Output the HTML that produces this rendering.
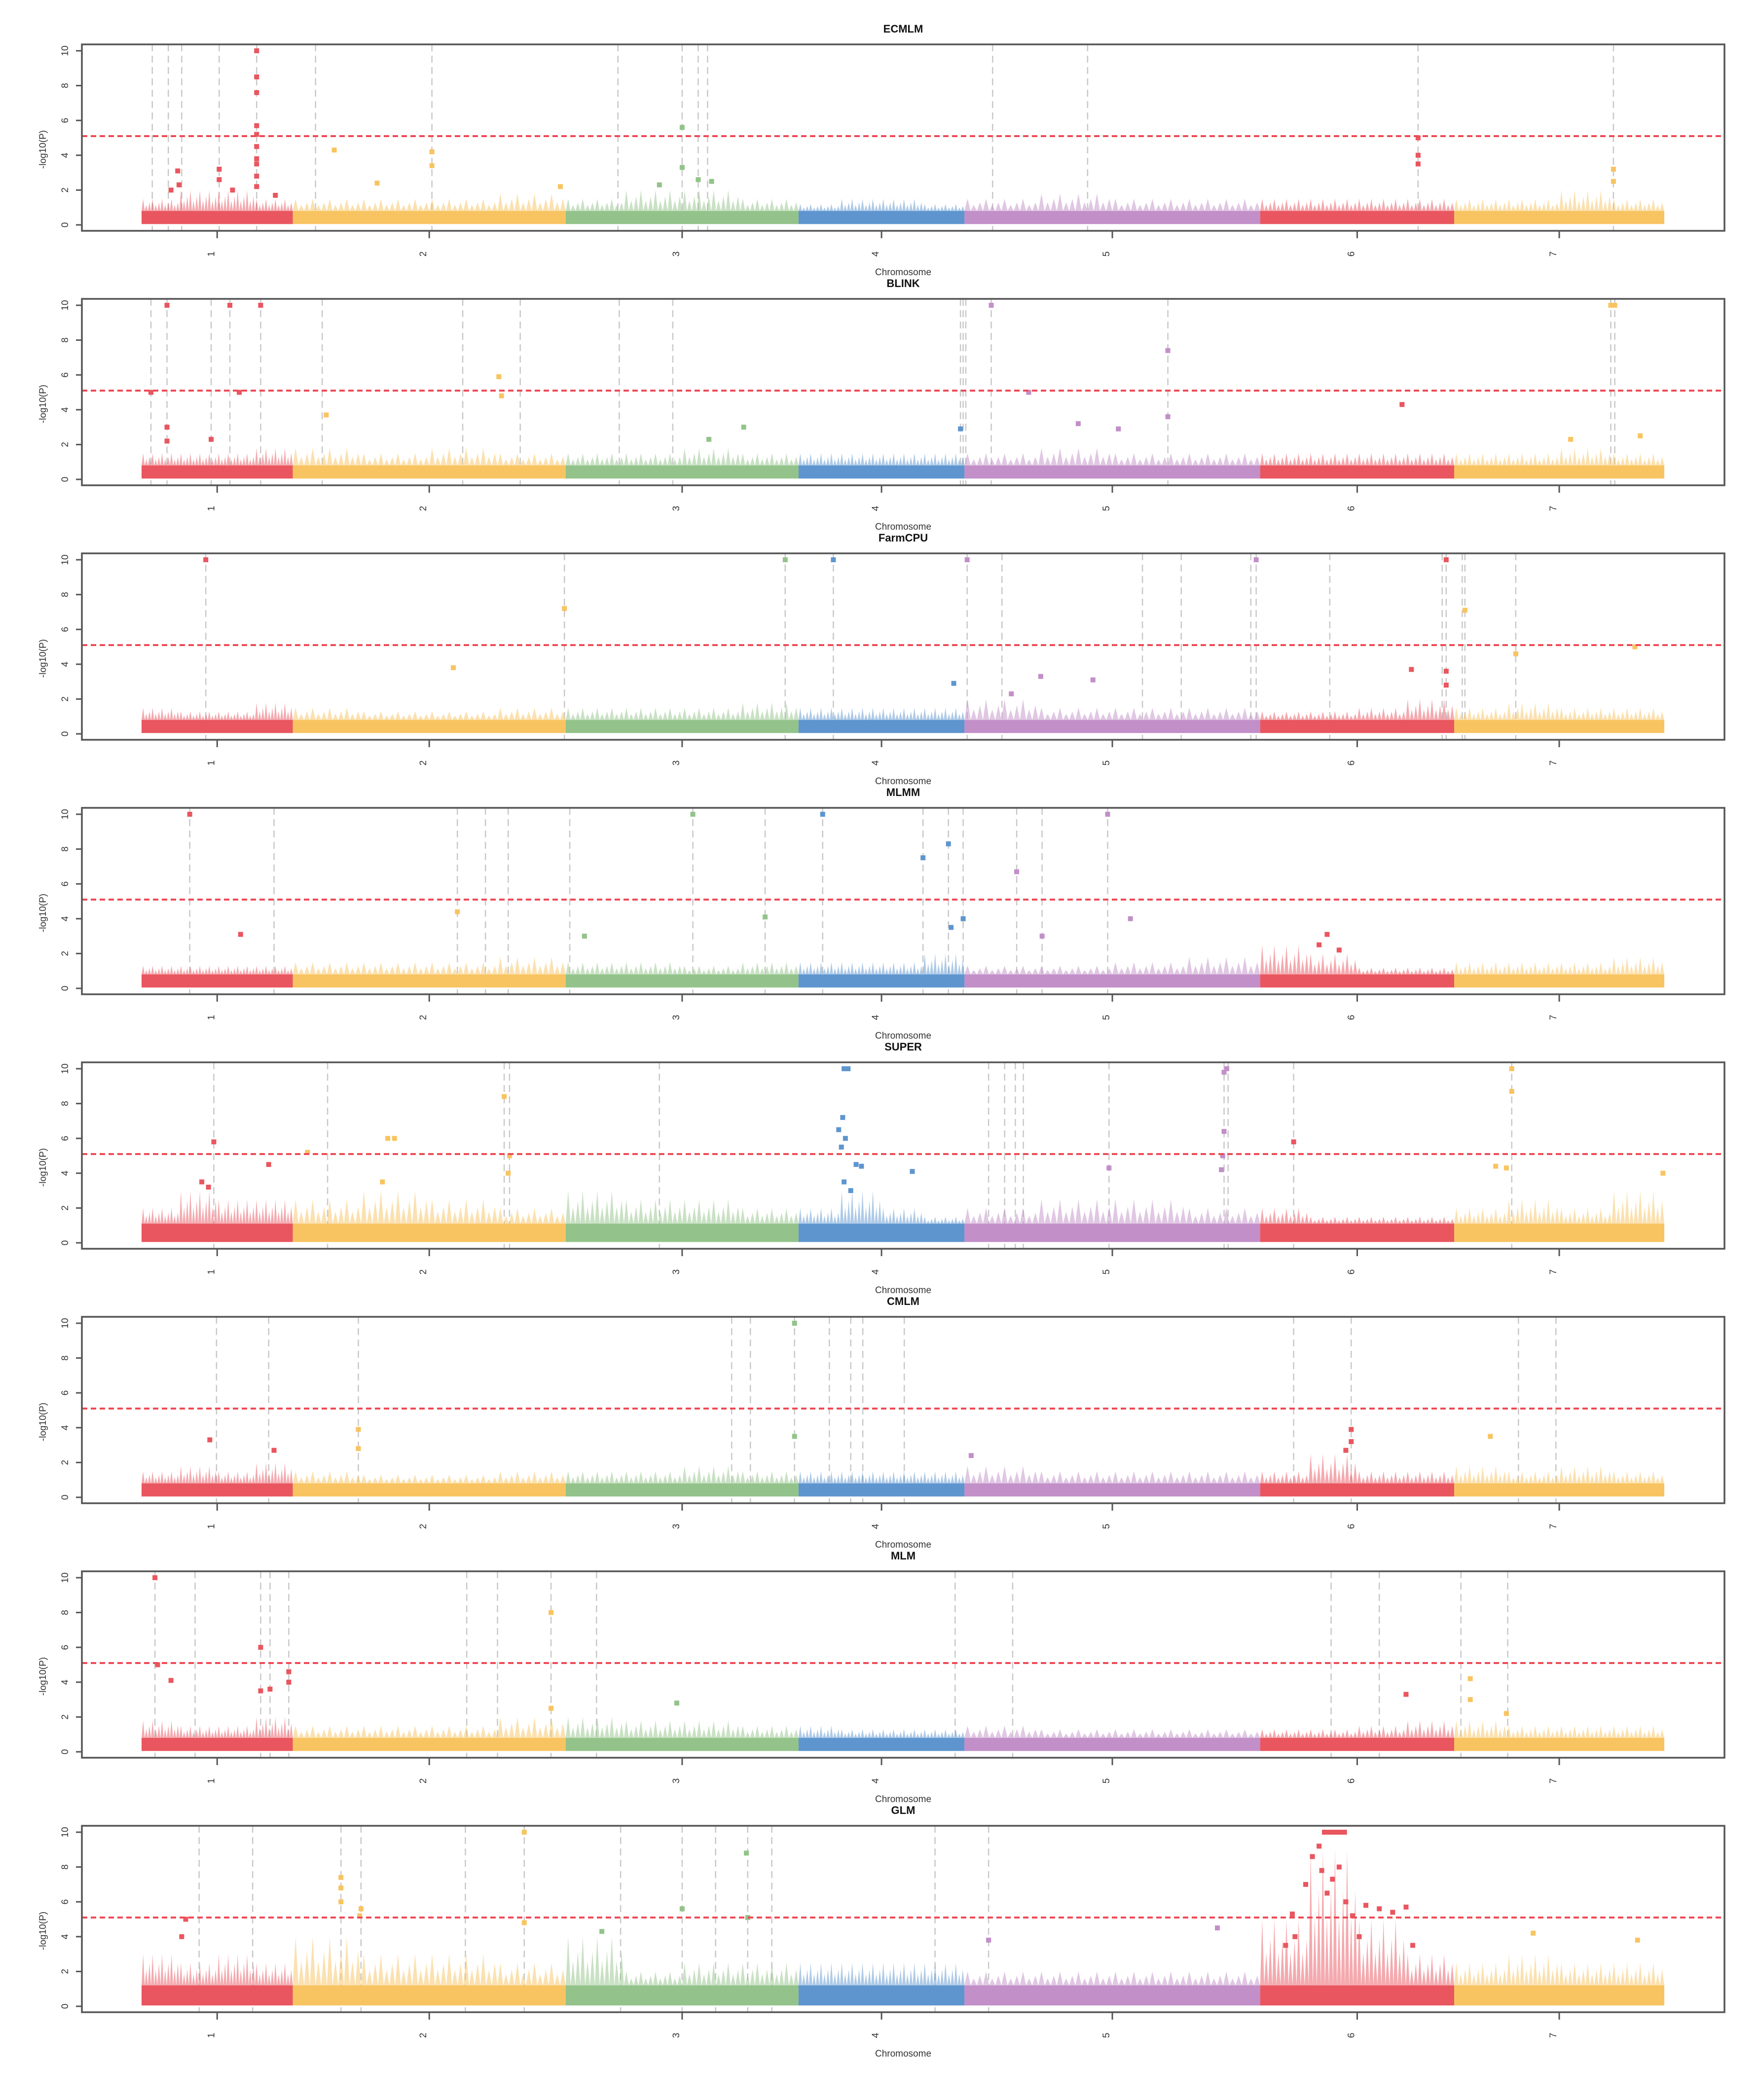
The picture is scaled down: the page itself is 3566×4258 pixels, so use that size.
<!DOCTYPE html>
<html><head><meta charset="utf-8"><style>
body{margin:0;background:#fff}
svg{display:block;font-family:"Liberation Sans",sans-serif}
</style></head><body>
<svg id="chart" width="3566" height="4258" viewBox="0 0 3566 4258" xmlns="http://www.w3.org/2000/svg"></svg>
<script>
// ---- data ----
const chromNames = ["1","2","3","4","5","6","7"];
const chromLen = [113,204,174,124,221,145,157]; // Mb
const chromColors = ["#E9565F","#F8C461","#93C38A","#5E95CF","#C28FC8","#E9565F","#F8C461"];
const yTicks = [0,2,4,6,8,10];
const threshold = 5.1;
const panelTitles = ["ECMLM","BLINK","FarmCPU","MLMM","SUPER","CMLM","MLM","GLM"];
const solidLevels = [0.8,0.8,0.8,0.8,1.1,0.8,0.8,1.2];
const envelopes = [
 [1.5,2.0,2.0,1.5, 1.5,1.5,1.5,1.8, 1.5,2.0,2.0,1.5, 1.2,1.5,1.5,1.2, 1.5,1.8,1.5,1.5, 1.5,1.5,1.5,1.5, 1.5,1.5,2.0,1.5],
 [1.5,1.5,1.5,1.8, 1.8,1.5,1.8,1.5, 1.5,1.5,1.8,1.5, 1.5,1.5,1.5,1.5, 1.5,1.8,1.5,1.5, 1.5,1.5,1.5,1.5, 1.5,1.5,1.8,1.5],
 [1.5,1.3,1.3,1.8, 1.5,1.3,1.3,1.5, 1.5,1.5,1.5,1.8, 1.5,1.5,1.5,1.5, 2.0,1.5,1.5,1.5, 1.3,1.3,1.5,2.0, 1.5,1.8,1.5,1.5],
 [1.3,1.3,1.3,1.3, 1.5,1.5,1.5,1.8, 1.5,1.5,1.3,1.5, 1.5,1.5,1.5,2.0, 1.3,1.3,1.5,1.8, 2.5,2.0,1.2,1.2, 1.5,1.5,1.5,1.8],
 [2.0,3.0,2.5,2.5, 2.5,3.0,2.5,2.0, 3.0,2.5,2.5,2.0, 2.0,3.0,2.0,1.5, 2.0,2.5,2.5,2.0, 2.0,1.5,1.5,1.5, 2.0,2.5,2.0,3.0],
 [1.5,1.8,1.5,2.0, 1.5,1.3,1.3,1.5, 1.5,1.5,1.8,1.5, 1.5,1.5,1.5,1.5, 1.8,1.5,1.5,1.5, 1.5,2.5,1.5,1.5, 1.8,1.5,1.8,1.5],
 [1.8,1.5,1.5,2.0, 1.5,1.5,1.5,2.0, 2.0,1.8,1.8,1.5, 1.5,1.3,1.3,1.3, 1.5,1.3,1.3,1.3, 1.3,1.3,1.5,1.8, 1.8,1.5,1.5,1.5],
 [3.0,2.5,3.0,2.5, 4.0,3.0,3.0,2.5, 4.0,2.0,2.5,2.5, 2.5,2.5,2.5,2.5, 2.0,2.0,2.0,2.0, 5.0,9.0,5.0,3.0, 2.5,3.0,2.5,2.5]
];
const signalLines = [
 [8,20,30,58,86,130,217,356,404,416,423,636,707,954,1100],
 [7,19,52,66,89,135,240,283,357,397,612,614,616,635,767,1098,1101],
 [48,316,481,517,617,643,748,777,829,833,888,972,975,987,989,1027],
 [36,99,236,257,274,320,412,466,509,584,603,614,654,673,722],
 [54,139,271,275,387,633,645,653,659,723,809,812,861,1024],
 [56,95,162,441,455,488,514,530,539,570,861,904,1029,1057],
 [10,40,89,96,110,243,266,306,340,608,651,889,925,986,1021],
 [43,83,149,164,242,286,358,404,429,453,471,593,633]
];
const peakPos = [
 [86,86,86,86,86,86,86,86,86,86,58,58,27,144,217,217,404,404,416,954,954,954,1100,1100,28,22,68,100,176,313,387,426],
 [19,66,89,635,1098,1101,7,73,767,767,267,269,663,942,612,19,19,52,138,700,730,450,424,1120,1068],
 [48,481,517,617,833,975,316,989,1027,1116,233,949,672,711,607,975,975,650],
 [36,412,509,722,584,603,654,739,466,673,236,331,605,614,74,886,880,895],
 [525,528,811,809,1024,1024,271,54,861,184,189,524,521,526,523,809,808,807,275,274,124,95,723,1012,534,538,576,525,530,45,50,180,1137,1020],
 [488,904,904,162,488,51,1008,99,620,900,162],
 [10,306,89,12,22,110,110,993,945,89,96,306,400,1020,993],
 [286,452,149,149,149,164,404,453,33,286,163,804,633,1040,1118,344,30,884,887,890,893,896,899,870,875,880,882,886,890,895,900,905,910,915,925,935,945,860,862,855,950]
];
const peakVal = [
 [10,8.5,7.6,5.7,5.2,4.5,3.8,3.5,2.8,2.2,3.2,2.6,3.1,4.3,4.2,3.4,5.6,3.3,2.6,5.0,4.0,3.5,3.2,2.5,2.3,2.0,2.0,1.7,2.4,2.2,2.3,2.5],
 [10,10,10,10,10,10,5,5,7.4,3.6,5.9,4.8,5,4.3,2.9,3,2.2,2.3,3.7,3.2,2.9,3.0,2.3,2.5,2.3],
 [10,10,10,10,10,10,7.2,7.1,4.6,5,3.8,3.7,3.3,3.1,2.9,3.6,2.8,2.3],
 [10,10,10,10,7.5,8.3,6.7,4,4.1,3,4.4,3,3.5,4.0,3.1,3.1,2.5,2.2],
 [10,10,10,9.8,10,8.7,8.4,5.8,5.8,6,6,7.2,6.5,6.0,5.5,6.4,5,4.2,5,4,5.2,4.5,4.3,4.4,4.5,4.4,4.1,3.5,3,3.5,3.2,3.5,4,4.3],
 [10,3.9,3.2,3.9,3.5,3.3,3.5,2.7,2.4,2.7,2.8],
 [10,8,6,5,4.1,4.6,4,4.2,3.3,3.5,3.6,2.5,2.8,2.2,3.0],
 [10,8.8,7.4,6.8,6,5.6,5.6,5.1,5,4.8,5.2,4.5,3.8,4.2,3.8,4.3,4.0,10,10,10,10,10,10,7,8.6,9.2,7.8,6.5,7.3,8,6,5.2,4,5.8,5.6,5.4,5.7,5.3,4,3.5,3.5]
];

// ---- layout ----
const NS = "http://www.w3.org/2000/svg";
const svg = document.getElementById("chart");
const plotL = 166, plotR = 3496, dataL = 287, dataR = 3374;
const panelTop0 = 90, panelStep = 516, panelH = 378, zeroOff = 366, unitPx = 35.3;
const totalLen = chromLen.reduce((a,b)=>a+b,0);
const chromStart = []; {let c=0; for(const l of chromLen){chromStart.push(c); c+=l;}}
const xScale = p => dataL + p/totalLen*(dataR-dataL);
function chromOf(p){ for(let i=chromLen.length-1;i>=0;i--) if(p>=chromStart[i]) return i; return 0; }
function mk(tag, attrs, parent){ const e=document.createElementNS(NS,tag); for(const k in attrs) e.setAttribute(k,attrs[k]); (parent||svg).appendChild(e); return e; }

panelTitles.forEach((title, pi) => {
  const top = panelTop0 + pi*panelStep;
  const yS = v => top + zeroOff - v*unitPx;
  const g = mk("g", {});
  
  

  const t = mk("text", {x:(plotL+plotR)/2, y:top-24, "text-anchor":"middle", "font-size":22, "font-weight":"bold", fill:"#111"}, g);
  t.textContent = title;
  
  

  signalLines[pi].forEach(p => {
    const l = mk("line", {x1:xScale(p), x2:xScale(p), y1:top, y2:top+panelH, stroke:"#c8c8c8", "stroke-width":2.5, "stroke-dasharray":"14,9"}, g);
    
    
  });

  const env = envelopes[pi], solid = solidLevels[pi];
  chromLen.forEach((len, ci) => {
    const bins = 4;
    let pts = [];
    for (let b=0;b<bins;b++){
      const s = chromStart[ci] + len*b/bins, e = chromStart[ci] + len*(b+1)/bins;
      const teeth = 12;
      for (let k=0;k<teeth;k++){
        const a = s + (e-s)*k/teeth, m = s + (e-s)*(k+0.5)/teeth;
        pts.push([xScale(a), yS(solid)]);
        pts.push([xScale(m), yS(solid + (env[ci*4+b]-solid)*(k%3===0?1:(k%3===1?0.5:0.7)))]);
      }
    }
    pts.push([xScale(chromStart[ci]+len), yS(solid)]);
    const upper = pts.map(q=>q.join(",")).join(" ");
    const x0 = xScale(chromStart[ci]), x1 = xScale(chromStart[ci]+len);
    const env1 = mk("polygon", {points: `${x0},${yS(0.05)} ${upper} ${x1},${yS(0.05)}`, fill:chromColors[ci], opacity:0.5}, g);
    
    
    const band = mk("rect", {x:x0, y:yS(solid), width:x1-x0, height:yS(0.05)-yS(solid), fill:chromColors[ci]}, g);
    
    
  });

  peakPos[pi].forEach((p, k) => {
    const v = peakVal[pi][k];
    const c = mk("rect", {x:xScale(p)-5, y:yS(v)-5, width:10, height:10, fill:chromColors[chromOf(p)]}, g);
    
    
  });

  const th = mk("line", {x1:plotL, x2:plotR, y1:yS(threshold), y2:yS(threshold), stroke:"#EE4B55", "stroke-width":4, "stroke-dasharray":"11,7"}, g);
  
  

  const fr = mk("rect", {x:plotL, y:top, width:plotR-plotL, height:panelH, fill:"none", stroke:"#555", "stroke-width":3.5}, g);
  
  

  yTicks.forEach(v => {
    const y = yS(v);
    const tk = mk("line", {x1:plotL-12, x2:plotL, y1:y, y2:y, stroke:"#555", "stroke-width":3}, g);
    
    
    const tl = mk("text", {x:0, y:0, transform:`translate(138,${y}) rotate(-90)`, "text-anchor":"middle", "font-size":19, fill:"#333"}, g);
    tl.textContent = v;
    
    
  });
  const yt = mk("text", {x:0, y:0, transform:`translate(93,${top+zeroOff/2+30}) rotate(-90)`, "text-anchor":"middle", "font-size":19, fill:"#333"}, g);
  yt.textContent = "-log10(P)";
  
  

  chromLen.forEach((len, ci) => {
    const x = xScale(chromStart[ci] + len*0.5);
    const tk = mk("line", {x1:x, x2:x, y1:top+panelH, y2:top+panelH+15, stroke:"#555", "stroke-width":3}, g);
    
    
    const tl = mk("text", {x:0, y:0, transform:`translate(${x-6},${top+panelH+47}) rotate(-90)`, "text-anchor":"middle", "font-size":19, fill:"#333"}, g);
    tl.textContent = chromNames[ci];
    
    
  });
  const xt = mk("text", {x:(plotL+plotR)/2, y:top+panelH+90, "text-anchor":"middle", "font-size":19, fill:"#333"}, g);
  xt.textContent = "Chromosome";
  
  
});
</script>
</body></html>
